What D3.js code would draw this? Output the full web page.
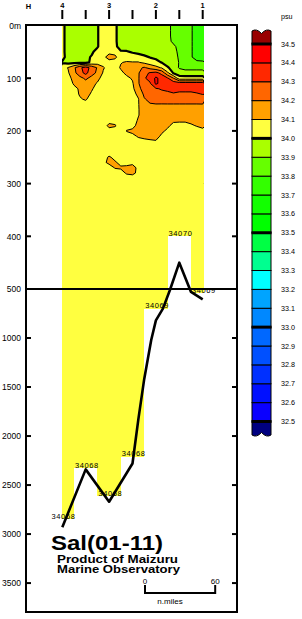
<!DOCTYPE html>
<html><head><meta charset="utf-8">
<script src="https://cdn.jsdelivr.net/npm/d3@7"></script>
<style>html,body{margin:0;padding:0;background:#fff;}svg{display:block;}</style>
</head><body>
<svg id="c" width="302" height="619"></svg>
<script>
// ---------------- DATA ----------------
// grid of salinity (psu): rows = depths, columns = distance along section (n.miles, from station 4)
const distances = [0,5,10,15,20,25,30,35,40,45,50,55,60,65,70,75,80,85,90,95,100,105,110,115,120];
const depths = [0,10,20,30,40,50,60,70,80,90,100,110,120,130,140,150,160,170,180,190,200,210,220,230,240,250,260,270,280,290,300];
const salinity = [
[34.03,33.95,33.95,33.95,33.95,33.95,33.99,34.06,34.06,34.02,33.95,33.95,33.95,33.95,33.95,33.95,33.95,33.95,33.93,33.87,33.85,33.83,33.81,33.76,33.74],
[34.03,33.95,33.95,33.95,33.95,33.95,33.99,34.06,34.06,34.02,33.95,33.95,33.95,33.95,33.95,33.95,33.95,33.95,33.93,33.87,33.85,33.83,33.81,33.76,33.74],
[34.03,33.95,33.95,33.95,33.95,33.95,33.99,34.06,34.06,34.02,33.95,33.95,33.95,33.95,33.95,33.95,33.95,33.95,33.93,33.87,33.86,33.83,33.81,33.76,33.74],
[34.03,33.95,33.95,33.95,33.95,33.95,33.99,34.06,34.06,34.02,33.95,33.95,33.95,33.95,33.95,33.95,33.95,33.95,33.93,33.88,33.86,33.83,33.81,33.76,33.74],
[34.03,33.95,33.95,33.95,33.95,33.95,33.99,34.06,34.06,34.02,33.965,33.95,33.95,33.95,33.95,33.95,33.95,33.95,33.93,33.92,33.87,33.83,33.81,33.76,33.74],
[34.03,33.95,33.95,33.95,33.95,33.98,34.04,34.06,34.08,34.07,34.01,34.01,33.99,33.97,33.96,33.95,33.95,33.95,33.93,33.93,33.88,33.83,33.81,33.76,33.74],
[34.03,33.96,33.96,33.96,33.97,34.01,34.05,34.08,34.13,34.12,34.05,34.05,34.05,34.05,34.02,33.995,33.98,33.96,33.93,33.93,33.89,33.83,33.81,33.76,33.74],
[33.99,33.97,33.97,33.97,33.97,34.02,34.05,34.06,34.07,34.06,34.095,34.11,34.105,34.105,34.08,34.05,34.03,33.995,33.96,33.94,33.895,33.84,33.83,33.82,33.82],
[34.06,34.105,34.18,34.28,34.34,34.27,34.19,34.11,34.06,34.06,34.11,34.13,34.14,34.18,34.21,34.17,34.13,34.09,34.01,33.96,33.89,33.87,33.87,33.87,33.87],
[34.06,34.09,34.17,34.26,34.33,34.24,34.18,34.09,34.06,34.06,34.08,34.12,34.13,34.19,34.27,34.31,34.33,34.27,34.12,33.99,33.95,33.94,33.94,33.94,33.94],
[34.06,34.06,34.14,34.17,34.22,34.17,34.13,34.06,34.06,34.06,34.06,34.08,34.11,34.19,34.29,34.33,34.42,34.36,34.31,34.20,34.04,34.04,34.04,34.04,34.04],
[34.06,34.06,34.11,34.13,34.16,34.13,34.09,34.06,34.06,34.06,34.06,34.06,34.09,34.19,34.28,34.29,34.42,34.36,34.36,34.36,34.36,34.36,34.36,34.36,34.36],
[34.06,34.06,34.08,34.11,34.14,34.11,34.07,34.06,34.06,34.06,34.06,34.06,34.08,34.16,34.26,34.27,34.29,34.31,34.32,34.34,34.33,34.33,34.33,34.34,34.35],
[34.06,34.06,34.06,34.11,34.13,34.09,34.06,34.06,34.06,34.06,34.06,34.06,34.07,34.12,34.22,34.25,34.26,34.27,34.28,34.29,34.28,34.28,34.28,34.29,34.305],
[34.06,34.06,34.06,34.09,34.11,34.06,34.06,34.06,34.06,34.06,34.06,34.06,34.06,34.095,34.19,34.23,34.24,34.235,34.24,34.24,34.24,34.24,34.24,34.24,34.25],
[34.06,34.06,34.06,34.06,34.06,34.06,34.06,34.06,34.06,34.06,34.06,34.06,34.06,34.095,34.16,34.19,34.195,34.195,34.195,34.195,34.195,34.195,34.195,34.195,34.195],
[34.06,34.06,34.06,34.06,34.06,34.06,34.06,34.06,34.06,34.06,34.06,34.06,34.06,34.095,34.14,34.15,34.16,34.16,34.16,34.16,34.16,34.16,34.16,34.16,34.16],
[34.06,34.06,34.06,34.06,34.06,34.06,34.06,34.06,34.06,34.06,34.06,34.06,34.06,34.095,34.14,34.13,34.14,34.14,34.14,34.13,34.13,34.13,34.14,34.14,34.14],
[34.06,34.06,34.06,34.06,34.06,34.06,34.06,34.06,34.07,34.06,34.06,34.06,34.06,34.11,34.13,34.13,34.13,34.13,34.12,34.11,34.11,34.11,34.12,34.12,34.13],
[34.06,34.06,34.06,34.06,34.06,34.06,34.06,34.06,34.12,34.11,34.06,34.06,34.07,34.13,34.13,34.13,34.13,34.12,34.11,34.085,34.08,34.08,34.09,34.105,34.12],
[34.06,34.06,34.06,34.06,34.06,34.06,34.06,34.06,34.07,34.06,34.06,34.105,34.12,34.13,34.13,34.12,34.12,34.11,34.09,34.06,34.06,34.06,34.06,34.07,34.08],
[34.06,34.06,34.06,34.06,34.06,34.06,34.06,34.06,34.06,34.06,34.06,34.06,34.08,34.11,34.12,34.12,34.12,34.09,34.06,34.06,34.06,34.06,34.06,34.06,34.06],
[34.06,34.06,34.06,34.06,34.06,34.06,34.06,34.06,34.06,34.06,34.06,34.06,34.06,34.07,34.08,34.09,34.095,34.06,34.06,34.06,34.06,34.06,34.06,34.06,34.06],
[34.06,34.06,34.06,34.06,34.06,34.06,34.06,34.06,34.06,34.06,34.06,34.06,34.06,34.06,34.06,34.06,34.06,34.06,34.06,34.06,34.06,34.06,34.06,34.06,34.06],
[34.06,34.06,34.06,34.06,34.06,34.06,34.06,34.06,34.06,34.06,34.06,34.06,34.06,34.06,34.06,34.06,34.06,34.06,34.06,34.06,34.06,34.06,34.06,34.06,34.06],
[34.06,34.06,34.06,34.06,34.06,34.06,34.06,34.07,34.11,34.08,34.06,34.06,34.06,34.06,34.06,34.06,34.06,34.06,34.06,34.06,34.06,34.06,34.06,34.06,34.06],
[34.06,34.06,34.06,34.06,34.06,34.06,34.06,34.08,34.12,34.11,34.08,34.07,34.08,34.06,34.06,34.06,34.06,34.06,34.06,34.06,34.06,34.06,34.06,34.06,34.06],
[34.06,34.06,34.06,34.06,34.06,34.06,34.06,34.06,34.06,34.105,34.11,34.12,34.13,34.08,34.06,34.06,34.06,34.06,34.06,34.06,34.06,34.06,34.06,34.06,34.06],
[34.06,34.06,34.06,34.06,34.06,34.06,34.06,34.06,34.06,34.06,34.07,34.11,34.12,34.08,34.06,34.06,34.06,34.06,34.06,34.06,34.06,34.06,34.06,34.06,34.06],
[34.06,34.06,34.06,34.06,34.06,34.06,34.06,34.06,34.06,34.06,34.06,34.06,34.06,34.06,34.06,34.06,34.06,34.06,34.06,34.06,34.06,34.06,34.06,34.06,34.06],
[34.06,34.06,34.06,34.06,34.06,34.06,34.06,34.06,34.06,34.06,34.06,34.06,34.06,34.06,34.06,34.06,34.06,34.06,34.06,34.06,34.06,34.06,34.06,34.06,34.06]
];

// stations (top ticks) and their deepest observation
const stationDist = [0,20,40,60,80,100,120];
const stationLabels = ["4","","3","","2","","1"];
const stationBottom = [2850,2330,2610,2210,700,400,540];
const bottomValues = ["34068","34068","34068","34068","34069","34070","34069"];

// sea floor
const bathyDist  = [0,20,40,60,65,70,76,80,86,92,100,110,120];
const bathyDepth = [2930,2340,2670,2280,1830,1420,1020,820,700,510,450,530,605];

const depthTicks = [0,100,200,300,400,500,1000,1500,2000,2500,3000,3500];

// colour legend (lower bound of each 0.1 psu class)
const classLower = [32.5,32.6,32.7,32.8,32.9,33.0,33.1,33.2,33.3,33.4,33.5,33.6,33.7,33.8,33.9,34.0,34.1,34.2,34.3,34.4];
const classColor = ["#0a00ff","#0010ff","#0030ff","#0050ff","#0068ff","#0088ff","#00a4ff","#00ffff","#00ff90","#00ff44","#00ff00","#12ff00","#33ff00","#66ff00","#aaff00","#ffff40","#ffa000","#ff6600","#ff2800","#ff0000"];
const overColor = "#990000", underColor = "#000080";
const legendLabels = ["34.5","34.4","34.3","34.2","34.1","34.0","33.9","33.8","33.7","33.6","33.5","33.4","33.3","33.2","33.1","33.0","32.9","32.8","32.7","32.6","32.5"];
const contourLevels = [33.7,33.8,33.9,34.0,34.1,34.2,34.3,34.4];

// ---------------- DRAW ----------------
const FONT = "'Liberation Sans', Arial, Helvetica, sans-serif";
const svg = d3.select("#c");
const x = d3.scaleLinear().domain([0,120]).range([62.3,202.7]);
const y = d3.scaleLinear().domain([0,500,3795]).range([25.5,289,612]);
const frame = {l:26, r:237, t:25, b:612};
const colorOf = v => { const i = classLower.findIndex(l => Math.abs(l - v) < 1e-6); return i < 0 ? classColor[0] : classColor[i]; };

// data area (yellow background, step-shaped bottom)
const n = stationDist.length;
const colEdge = stationDist.map((d,i)=>[i===0 ? -0.2 : (stationDist[i-1]+d)/2, i===n-1 ? 121 : (d+stationDist[i+1])/2]);
const area = [[x(-0.2), y(0)], [x(121), y(0)]];
for (let i = n-1; i >= 0; i--) {
  area.push([x(colEdge[i][1]), y(stationBottom[i])]);
  area.push([x(colEdge[i][0]), y(stationBottom[i])]);
}
svg.append("path").attr("d", "M" + area.map(p => [Math.round(p[0]), Math.round(p[1])]).join("L") + "Z")
  .attr("fill", colorOf(34.0)).attr("shape-rendering","crispEdges");

// contours
const defs = svg.append("defs");
const cx0 = Math.round(x(-0.2)), cx1 = Math.round(x(121)), cy0 = Math.round(y(0)), cy1 = Math.round(y(depths[depths.length-1]));
defs.append("clipPath").attr("id","gridclip").append("rect")
  .attr("x", cx0).attr("y", cy0 - 1).attr("width", cx1 - cx0).attr("height", cy1 - cy0 + 1);
const nx = distances.length, ny = depths.length;
const cs = d3.contours().size([nx, ny]).thresholds(contourLevels)(salinity.flat());
const gx = d3.scaleLinear().domain([0.5, nx-0.5]).range([distances[0], distances[nx-1]]);
const gy = d3.scaleLinear().domain([0.5, ny-0.5]).range([depths[0], depths[ny-1]]);
const path = d3.geoPath(d3.geoTransform({ point(px, py) { this.stream.point(x(gx(px)), y(gy(py))); } }));
const cg = svg.append("g").attr("clip-path","url(#gridclip)");
cg.selectAll("path.fill").data(cs).join("path").attr("class","fill")
  .attr("d", path).attr("fill", d => colorOf(d.value)).attr("stroke", "none").attr("shape-rendering","crispEdges");
cg.selectAll("path.line").data(cs.filter(c => c.value > 33.75)).join("path").attr("class","line")
  .attr("d", path).attr("fill", "none").attr("stroke", "#000")
  .attr("stroke-width", d => Math.abs(d.value - 34.0) < 1e-6 ? 2.2 : 1).attr("stroke-linejoin","round");

// sea floor line
svg.append("path").datum(bathyDist.map((d,i)=>[d, bathyDepth[i]]))
  .attr("d", d3.line().x(d => x(d[0])).y(d => y(d[1])))
  .attr("fill","none").attr("stroke","#000").attr("stroke-width",2.6).attr("stroke-linejoin","round");

// 500 m break line
svg.append("line").attr("x1", frame.l).attr("x2", frame.r).attr("y1", y(500)).attr("y2", y(500))
  .attr("stroke","#000").attr("stroke-width",2);

// bottom values
svg.selectAll("text.bv").data(stationDist).join("text").attr("class","bv")
  .attr("x", d => x(d) + 1.2).attr("y", (d,i) => y(stationBottom[i]) - 0.3)
  .attr("text-anchor","middle").attr("font-family", FONT).attr("font-size", 7.5).attr("letter-spacing", 0.6)
  .text((d,i) => bottomValues[i]);

// frame
svg.append("rect").attr("x", frame.l).attr("y", frame.t).attr("width", frame.r-frame.l).attr("height", frame.b-frame.t)
  .attr("fill","none").attr("stroke","#000").attr("stroke-width",2);

// depth ticks + labels
const tk = svg.append("g");
depthTicks.filter(t => t > 0).forEach(t => {
  tk.append("line").attr("x1", frame.l).attr("x2", frame.l+5).attr("y1", y(t)).attr("y2", y(t)).attr("stroke","#000").attr("stroke-width",2);
  tk.append("line").attr("x1", frame.r-5).attr("x2", frame.r).attr("y1", y(t)).attr("y2", y(t)).attr("stroke","#000").attr("stroke-width",2);
});
tk.selectAll("text").data(depthTicks).join("text")
  .attr("x", 21).attr("y", t => y(t) + 3.3).attr("text-anchor","end")
  .attr("font-family", FONT).attr("font-size", 8.5)
  .text(t => t === 0 ? "0m" : String(t));

// station ticks
svg.selectAll("line.st").data(stationDist).join("line").attr("class","st")
  .attr("x1", d => x(d)).attr("x2", d => x(d)).attr("y1", 10).attr("y2", 19).attr("stroke","#000").attr("stroke-width",2);
svg.selectAll("text.st").data(stationDist).join("text").attr("class","st")
  .attr("x", d => x(d)).attr("y", 7.8).attr("text-anchor","middle")
  .attr("font-family", FONT).attr("font-size", 7.5).attr("font-weight","bold")
  .text((d,i) => stationLabels[i]);
svg.append("text").attr("x", 28.5).attr("y", 9.2).attr("text-anchor","middle")
  .attr("font-family", FONT).attr("font-size", 7.5).attr("font-weight","bold").text("H");

// title
svg.append("text").attr("x", 51).attr("y", 550).attr("font-family", FONT).attr("font-size", 21).attr("font-weight","bold")
  .attr("textLength", 112).attr("lengthAdjust","spacingAndGlyphs").text("Sal(01-11)");
svg.append("text").attr("x", 57).attr("y", 563).attr("font-family", FONT).attr("font-size", 11).attr("font-weight","bold")
  .attr("textLength", 121).attr("lengthAdjust","spacingAndGlyphs").text("Product of Maizuru");
svg.append("text").attr("x", 57).attr("y", 572.5).attr("font-family", FONT).attr("font-size", 11).attr("font-weight","bold")
  .attr("textLength", 123).attr("lengthAdjust","spacingAndGlyphs").text("Marine Observatory");

// distance scale bar (60 n.miles)
const sb0 = 145, sb1 = sb0 + (x(60) - x(0));
svg.append("path").attr("d", `M${sb0},585V593H${sb1}V585`).attr("fill","none").attr("stroke","#000").attr("stroke-width",2);
svg.append("text").attr("x", sb0).attr("y", 583.5).attr("text-anchor","middle").attr("font-family", FONT).attr("font-size", 8).text("0");
svg.append("text").attr("x", sb1).attr("y", 583.5).attr("text-anchor","middle").attr("font-family", FONT).attr("font-size", 8).text("60");
svg.append("text").attr("x", 170).attr("y", 604).attr("text-anchor","middle").attr("font-family", FONT).attr("font-size", 8).text("n.miles");

// colour bar
const cb = d3.scaleLinear().domain([32.5, 34.5]).range([421.5, 44]);
const bx0 = 252, bx1 = 271;
const leg = svg.append("g");
leg.append("path").attr("d", `M${bx0},${cb(34.5)}L${bx0},31Q${bx0+4.5},28 ${(bx0+bx1)/2},33.5Q${bx1-4.5},28 ${bx1},31L${bx1},${cb(34.5)}Z`)
  .attr("fill", overColor).attr("stroke","#000").attr("stroke-width",1);
leg.append("path").attr("d", `M${bx0},${cb(32.5)}L${bx0},435Q${bx0+4.5},438 ${(bx0+bx1)/2},432.5Q${bx1-4.5},438 ${bx1},435L${bx1},${cb(32.5)}Z`)
  .attr("fill", underColor).attr("stroke","#000").attr("stroke-width",1);
leg.selectAll("rect").data(classLower).join("rect")
  .attr("x", bx0).attr("width", bx1-bx0)
  .attr("y", v => cb(v + 0.1)).attr("height", v => cb(v) - cb(v + 0.1))
  .attr("fill", (v,i) => classColor[i]).attr("stroke","#000").attr("stroke-width",1);
[32.5,33.0,33.5,34.0,34.5].forEach(v => {
  leg.append("line").attr("x1", bx0-0.5).attr("x2", bx1+0.5).attr("y1", cb(v)).attr("y2", cb(v)).attr("stroke","#000").attr("stroke-width",3);
});
leg.selectAll("text.lab").data(legendLabels).join("text").attr("class","lab")
  .attr("x", 281).attr("y", d => cb(+d) + 2.6).attr("font-family", FONT).attr("font-size", 7.2).text(d => d);
leg.append("text").attr("x", 281).attr("y", 19).attr("font-family", FONT).attr("font-size", 7.2).text("psu");
</script>
</body></html>
